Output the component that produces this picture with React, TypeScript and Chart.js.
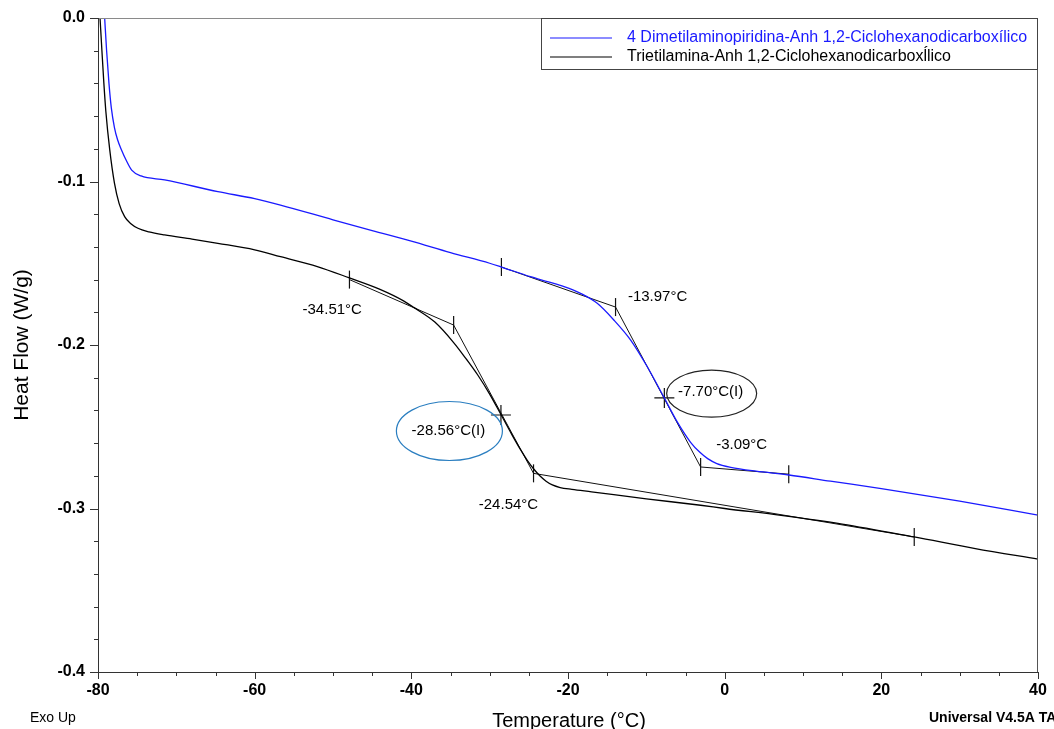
import React, { useEffect, useRef } from "react";
import { Chart, registerables } from "chart.js";

Chart.register(...registerables);

// ---- Data ----
const xMin = -80;
const xMax = 40;
const yMin = -0.4;
const yMax = 0.0;
const xMajorStep = 20;
const xMinorStep = 5;
const yMajorStep = 0.1;
const yMinorStep = 0.02;

const dmapLabel = "4 Dimetilaminopiridina-Anh 1,2-Ciclohexanodicarboxílico";
const teaLabel = "Trietilamina-Anh 1,2-Ciclohexanodicarboxĺlico";

const dmapTemp = [
  -79.15, -78.9, -78.6, -78.3, -77.9, -77.5, -77.0, -76.4, -75.7, -74.5, -71.5, -64.7, -60, -56.7, -50,
  -45, -40, -35, -30, -28.5, -24.8, -22.5, -20.5, -18.4, -16.27, -14.15, -12.0, -9.88, -7.8, -6, -4.35,
  -3.2, -2.17, -1, 0.77, 4, 8.2, 13.5, 20, 30, 40,
];
const dmapFlow = [
  0.0, -0.02, -0.04, -0.055, -0.067, -0.0745, -0.0807, -0.087, -0.093, -0.0966, -0.099, -0.1062, -0.1105,
  -0.1144, -0.1234, -0.13, -0.1365, -0.1435, -0.15, -0.1523, -0.1582, -0.1614, -0.1643, -0.1684, -0.1745,
  -0.1847, -0.197, -0.2133, -0.2315, -0.2475, -0.2595, -0.2655, -0.2695, -0.2725, -0.2748, -0.2772,
  -0.2795, -0.2833, -0.2878, -0.2955, -0.304,
];

const teaTemp = [
  -79.74, -79.5, -79.25, -79.0, -78.5, -77.9, -77.3, -76.6, -75.8, -74.9, -73.5, -71.5, -68, -64.7, -60,
  -56.7, -52, -47.9, -44, -41, -39.7, -37, -34.6, -33, -31.5, -30, -28.56, -27.2, -26, -25.2, -24.4,
  -23.6, -22.8, -22, -21, -19.5, -17, -10, -3.07, 0, 7.2, 15, 24.2, 32, 40,
];
const teaFlow = [
  0.0, -0.02, -0.04, -0.057, -0.0807, -0.101, -0.1135, -0.1215, -0.1258, -0.1286, -0.1308, -0.1327,
  -0.1352, -0.1378, -0.1418, -0.146, -0.152, -0.159, -0.166, -0.173, -0.177, -0.186, -0.1985, -0.2085,
  -0.2185, -0.23, -0.2425, -0.2545, -0.2645, -0.2705, -0.2757, -0.28, -0.2833, -0.2856, -0.2872, -0.2883,
  -0.2898, -0.2941, -0.298, -0.3, -0.3042, -0.3095, -0.3174, -0.3245, -0.331,
];

// tangent constructions (onset / end points)
const dmapTangentTemp = [-28.5, -13.93, -3.07, 8.18];
const dmapTangentFlow = [-0.1523, -0.1768, -0.2746, -0.279];
const teaTangentTemp = [-47.9, -34.6, -24.4, 24.2];
const teaTangentFlow = [-0.16, -0.1878, -0.2785, -0.3174];

// inflection points
const inflectionTemp = [-28.56, -7.7];
const inflectionFlow = [-0.2428, -0.2324];

// annotation texts
const annotationTexts = ["-34.51°C", "-28.56°C(I)", "-24.54°C", "-13.97°C", "-7.70°C(I)", "-3.09°C"];
const annotationTemp = [-50.1, -35.27, -27.6, -8.56, -1.79, 2.17];
const annotationFlow = [-0.1786, -0.2526, -0.2979, -0.1706, -0.2287, -0.2612];

// ellipses around inflection labels
const ellipseTemp = [-35.14, -1.66];
const ellipseFlow = [-0.2526, -0.2297];

const zip = (xs: number[], ys: number[]) => xs.map((x, i) => ({ x, y: ys[i] }));

const BLUE = "#1a1aff";
const FONT = "'Liberation Sans', Arial, sans-serif";

const decorPlugin = {
  id: "decor",
  afterDraw(chart: any) {
    const ctx = chart.ctx as CanvasRenderingContext2D;
    const xs = chart.scales.x;
    const ys = chart.scales.y;
    const a = chart.chartArea;
    ctx.save();

    // frame
    ctx.lineWidth = 1;
    ctx.strokeStyle = "#8a8a8a";
    ctx.beginPath();
    ctx.moveTo(a.left, a.top + 0.5);
    ctx.lineTo(a.right, a.top + 0.5);
    ctx.stroke();
    ctx.strokeStyle = "#555";
    ctx.beginPath();
    ctx.moveTo(a.right - 0.5, a.top);
    ctx.lineTo(a.right - 0.5, a.bottom);
    ctx.stroke();
    ctx.strokeStyle = "#333";
    ctx.beginPath();
    ctx.moveTo(a.left + 0.5, a.top);
    ctx.lineTo(a.left + 0.5, a.bottom);
    ctx.moveTo(a.left, a.bottom + 0.5);
    ctx.lineTo(a.right, a.bottom + 0.5);
    ctx.stroke();

    // y ticks
    ctx.strokeStyle = "#333";
    ctx.beginPath();
    const ny = Math.round((yMax - yMin) / yMinorStep);
    for (let i = 0; i <= ny; i++) {
      const v = yMin + i * yMinorStep;
      const p = Math.round(ys.getPixelForValue(v)) + 0.5;
      const major = i % Math.round(yMajorStep / yMinorStep) === 0;
      ctx.moveTo(a.left, p);
      ctx.lineTo(a.left - (major ? 8 : 4), p);
    }
    // x ticks
    const nx = Math.round((xMax - xMin) / xMinorStep);
    for (let i = 0; i <= nx; i++) {
      const v = xMin + i * xMinorStep;
      const p = Math.round(xs.getPixelForValue(v)) + 0.5;
      const major = i % Math.round(xMajorStep / xMinorStep) === 0;
      ctx.moveTo(p, a.bottom);
      ctx.lineTo(p, a.bottom + (major ? 7 : 4));
    }
    ctx.stroke();

    // axis titles
    ctx.fillStyle = "#000";
    ctx.font = `21px ${FONT}`;
    ctx.textAlign = "center";
    ctx.textBaseline = "middle";
    ctx.save();
    ctx.translate(22, 345);
    ctx.rotate(-Math.PI / 2);
    ctx.fillText("Heat Flow (W/g)", 0, 0);
    ctx.restore();
    ctx.font = `20px ${FONT}`;
    ctx.fillText("Temperature (°C)", 569, 721);

    ctx.font = `14px ${FONT}`;
    ctx.textAlign = "left";
    ctx.fillText("Exo Up", 30, 718);
    ctx.font = `bold 14px ${FONT}`;
    ctx.fillText("Universal V4.5A TA Instruments", 929, 718);

    // annotation labels
    ctx.font = `15px ${FONT}`;
    ctx.textAlign = "center";
    annotationTexts.forEach((t, i) => {
      ctx.fillText(t, xs.getPixelForValue(annotationTemp[i]), ys.getPixelForValue(annotationFlow[i]));
    });

    // ellipses
    const ellColors = ["#2a7ec0", "#222"];
    const ellRx = [53, 45];
    const ellRy = [29.5, 23.5];
    ellipseTemp.forEach((t, i) => {
      ctx.strokeStyle = ellColors[i];
      ctx.lineWidth = 1.2;
      ctx.beginPath();
      ctx.ellipse(xs.getPixelForValue(t), ys.getPixelForValue(ellipseFlow[i]), ellRx[i], ellRy[i], 0, 0, Math.PI * 2);
      ctx.stroke();
    });

    // legend
    const lx = 541.5;
    const ly = a.top + 0.5;
    const lw = a.right - 0.5 - lx;
    const lh = 51;
    ctx.fillStyle = "#fff";
    ctx.fillRect(lx, ly, lw, lh);
    ctx.strokeStyle = "#444";
    ctx.lineWidth = 1;
    ctx.strokeRect(lx, ly, lw, lh);
    const entries = [
      { label: dmapLabel, color: BLUE, y: a.top + 20 },
      { label: teaLabel, color: "#000", y: a.top + 39 },
    ];
    ctx.font = `16px ${FONT}`;
    ctx.textAlign = "left";
    entries.forEach((e) => {
      ctx.strokeStyle = e.color;
      ctx.lineWidth = 1.2;
      ctx.beginPath();
      ctx.moveTo(550, e.y);
      ctx.lineTo(612, e.y);
      ctx.stroke();
      ctx.fillStyle = e.color;
      ctx.fillText(e.label, 627, e.y);
    });

    ctx.restore();
  },
};

export default function App() {
  const ref = useRef<HTMLCanvasElement | null>(null);

  useEffect(() => {
    if (!ref.current) return;
    const chart = new Chart(ref.current, {
      type: "line",
      data: {
        datasets: [
          {
            label: dmapLabel,
            data: zip(dmapTemp, dmapFlow),
            borderColor: BLUE,
            borderWidth: 1.3,
            pointRadius: 0,
            cubicInterpolationMode: "monotone",
          },
          {
            label: teaLabel,
            data: zip(teaTemp, teaFlow),
            borderColor: "#000",
            borderWidth: 1.3,
            pointRadius: 0,
            cubicInterpolationMode: "monotone",
          },
          {
            label: "dmap tangents",
            data: zip(dmapTangentTemp, dmapTangentFlow),
            borderColor: "#111",
            borderWidth: 1,
            pointStyle: "line",
            rotation: 90,
            pointRadius: 9,
            pointBorderColor: "#111",
            pointBorderWidth: 1.2,
            tension: 0,
          },
          {
            label: "tea tangents",
            data: zip(teaTangentTemp, teaTangentFlow),
            borderColor: "#111",
            borderWidth: 1,
            pointStyle: "line",
            rotation: 90,
            pointRadius: 9,
            pointBorderColor: "#111",
            pointBorderWidth: 1.2,
            tension: 0,
          },
          {
            label: "inflection",
            data: zip(inflectionTemp, inflectionFlow),
            showLine: false,
            pointStyle: "cross",
            pointRadius: 10,
            pointBorderColor: "#111",
            pointBorderWidth: 1.2,
          },
        ],
      },
      options: {
        animation: false,
        responsive: false,
        maintainAspectRatio: false,
        layout: { padding: { left: 0, top: 18, right: 16, bottom: 0 } },
        plugins: { legend: { display: false }, tooltip: { enabled: false } },
        scales: {
          x: {
            type: "linear",
            min: xMin,
            max: xMax,
            afterFit: (s: any) => {
              s.height = 57;
            },
            grid: { display: false, drawTicks: true, tickLength: 9 },
            border: { display: false },
            ticks: {
              stepSize: xMajorStep,
              padding: 0,
              autoSkip: false,
              maxRotation: 0,
              color: "#000",
              font: { family: FONT, size: 16, weight: "bold" },
            },
          },
          y: {
            type: "linear",
            min: yMin,
            max: yMax,
            afterFit: (s: any) => {
              s.width = 98;
            },
            grid: { display: false, drawTicks: true, tickLength: 13 },
            border: { display: false },
            ticks: {
              stepSize: yMajorStep,
              padding: 0,
              autoSkip: false,
              color: "#000",
              font: { family: FONT, size: 16, weight: "bold" },
              callback: (v: any) => Number(v).toFixed(1),
            },
          },
        },
      },
      plugins: [decorPlugin],
    } as any);
    return () => chart.destroy();
  }, []);

  return (
    <div style={{ position: "fixed", left: 0, top: 0, width: 1054, height: 729, background: "#fff" }}>
      <canvas ref={ref} width={1054} height={729} style={{ display: "block" }} />
    </div>
  );
}
